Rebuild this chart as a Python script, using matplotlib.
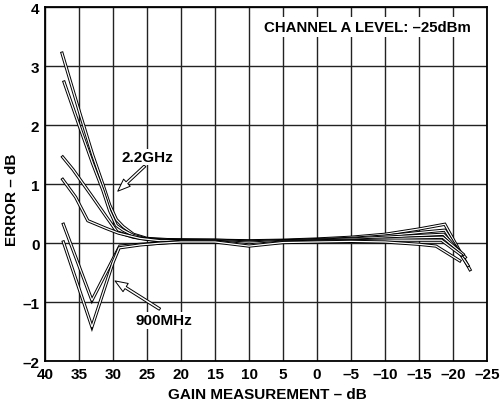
import matplotlib
matplotlib.use("Agg")
import matplotlib.pyplot as plt
import matplotlib.patheffects as pe

plt.rcParams['font.family'] = ['Liberation Sans', 'DejaVu Sans']
plt.rcParams['font.weight'] = 'bold'

# tick positions and labels
x_ticks = [40, 35, 30, 25, 20, 15, 10, 5, 0, -5, -10, -15, -20, -25]
x_tick_labels = ['40', '35', '30', '25', '20', '15', '10', '5', '0',
                 '–5', '–10', '–15', '–20', '–25']
y_ticks = [-2, -1, 0, 1, 2, 3, 4]
y_tick_labels = ['–2', '–1', '0', '1', '2', '3', '4']

c1_x = [37.5, 35, 33, 31.5, 30.5, 29.5, 28.5, 27, 25, 22, 15, 10, 5, 0, -5, -10, -15, -18.8, -22.5]
c1_y = [3.22, 2.25, 1.5, 1.0, 0.65, 0.4, 0.28, 0.15, 0.08, 0.06, 0.05, 0.04, 0.05, 0.07, 0.1, 0.15, 0.24, 0.32, -0.45]
c2_x = [37.2, 35, 33, 31.5, 30.5, 29.5, 28.5, 27, 25, 22, 15, 10, 5, 0, -5, -10, -15, -18.8, -22.2]
c2_y = [2.73, 2.0, 1.35, 0.9, 0.55, 0.3, 0.22, 0.13, 0.07, 0.05, 0.05, 0.03, 0.04, 0.06, 0.08, 0.12, 0.18, 0.22, -0.38]
c3_x = [37.4, 35.9, 33, 31, 29.4, 27, 24, 20, 15, 10, 5, 0, -5, -10, -15, -18.6, -21.8]
c3_y = [1.46, 1.25, 0.78, 0.45, 0.19, 0.1, 0.05, 0.04, 0.04, 0.02, 0.04, 0.05, 0.07, 0.1, 0.13, 0.15, -0.24]
c4_x = [37.4, 35.5, 33.7, 31, 29.2, 26, 23, 20, 15, 10, 5, 0, -5, -10, -15, -18.5, -21.5]
c4_y = [1.08, 0.78, 0.38, 0.25, 0.17, 0.08, 0.04, 0.04, 0.03, 0.0, 0.03, 0.04, 0.05, 0.07, 0.09, 0.1, -0.19]
c5_x = [37.3, 33.1, 30, 29, 26, 23, 20, 15, 10, 5, 0, -5, -10, -15, -18.3, -21.2]
c5_y = [0.32, -0.97, -0.27, -0.05, -0.02, 0.0, 0.03, 0.03, -0.03, 0.02, 0.03, 0.04, 0.05, 0.05, 0.05, -0.2]
c6_x = [37.3, 33.1, 30, 29.1, 26, 23, 20, 15, 10, 5, 0, -5, -10, -15, -17.5, -21.0]
c6_y = [0.02, -1.42, -0.33, -0.08, -0.03, 0.0, 0.02, 0.02, -0.05, 0.01, 0.02, 0.03, 0.02, -0.02, -0.05, -0.3]

curves = [(c1_x, c1_y), (c2_x, c2_y), (c3_x, c3_y),
          (c4_x, c4_y), (c5_x, c5_y), (c6_x, c6_y)]

fig = plt.figure(figsize=(5, 4.06), dpi=100)
ax = fig.add_axes([0.09, 0.108, 0.884, 0.872])

outline = [pe.Stroke(linewidth=2.3, foreground='black'), pe.Normal()]
for cx, cy in curves:
    ax.plot(cx, cy, color='white', lw=0.9, path_effects=outline,
            solid_joinstyle='miter', zorder=3)

ax.set_xlim(40, -25)
ax.set_ylim(-2, 4)
ax.set_xticks(x_ticks)
ax.set_xticklabels(x_tick_labels)
ax.set_yticks(y_ticks)
ax.set_yticklabels(y_tick_labels)
ax.tick_params(length=0, labelsize=11, pad=4)
ax.grid(True, color='#222222', lw=1.0)
ax.set_axisbelow(True)
for s in ax.spines.values():
    s.set_linewidth(1.3)

fig.text(0.534, 0.027, 'GAIN MEASUREMENT – dB', fontsize=11, fontweight='bold',
         ha='center', va='center')
fig.text(0.025, 0.507, 'ERROR – dB', fontsize=11, fontweight='bold',
         ha='center', va='center', rotation=90)

ax.text(-7.35, 3.66, 'CHANNEL A LEVEL: –25dBm', fontsize=10.8, fontweight='bold',
        ha='center', va='center', zorder=4,
        bbox=dict(facecolor='white', edgecolor='none', pad=2))

arrow = dict(arrowstyle='simple,head_length=0.9,head_width=0.7,tail_width=0.18',
             fc='white', ec='black', lw=0.7, shrinkA=0, shrinkB=0)
ax.annotate('', xy=(29.3, 0.88), xytext=(25.3, 1.31), arrowprops=arrow, zorder=4)
ax.text(25.0, 1.46, '2.2GHz', fontsize=11, fontweight='bold', ha='center', va='center',
        zorder=4, bbox=dict(facecolor='white', edgecolor='none', pad=1))
ax.annotate('', xy=(29.7, -0.64), xytext=(23.1, -1.12), arrowprops=arrow, zorder=4)
ax.text(22.5, -1.31, '900MHz', fontsize=11, fontweight='bold', ha='center', va='center',
        zorder=4, bbox=dict(facecolor='white', edgecolor='none', pad=1))

fig.savefig('out.png', dpi=100)
